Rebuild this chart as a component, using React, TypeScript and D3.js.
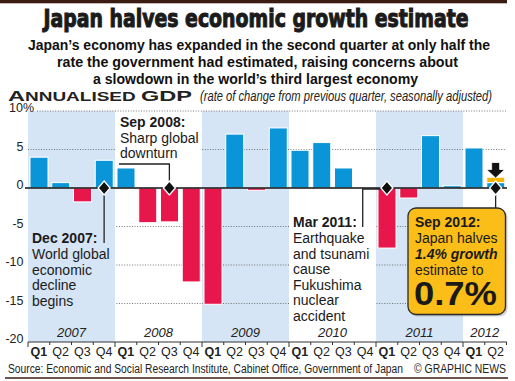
import React from "react";
import * as d3 from "d3";

const years = ["2007", "2008", "2009", "2010", "2011", "2012"];
const quarterNames = ["Q1", "Q2", "Q3", "Q4"];
const gdp = [4.0, 0.7, -1.8, 3.6, 2.6, -4.5, -4.4, -12.2, -15.1, 7.0, -0.3, 7.8, 4.9, 5.9, 2.6, 0, -7.8, -1.3, 6.8, 0.3, 5.2, 0.7];
const earlierEstimate = 1.4;
const yTicks = [10, 5, 0, -5, -10, -15, -20];
const shadedYears = ["2007", "2009", "2011"];
const eventQuarters = [3, 6, 16, 21];

const W = 515;
const H = 381;
const FONT = "'Liberation Sans', Arial, Helvetica, sans-serif";
const NARROW = "'Liberation Sans Narrow', 'Liberation Sans', Arial, sans-serif";
const BLUE = "#0a95d8";
const RED = "#e8174b";
const BAND = "#d6e5f5";
const YELLOW = "#fbbd17";
const INK = "#1b1b1b";

export default function App() {
  const n = gdp.length;
  const qx = d3.scaleLinear().domain([0, n]).range([28, 506.5]);
  const y = d3.scaleLinear().domain([-20, 10]).range([342, 111]);
  const step = qx(1) - qx(0);
  const bw = step - 3.75;
  const quarterLabels = d3.range(n).map((i) => quarterNames[i % 4]);
  const y0 = y(0);
  const cx = (i: number) => qx(i + 0.5);

  const diamond = (i: number) => {
    const x = cx(i);
    return `M${x},${y0 - 7} L${x + 6},${y0} L${x},${y0 + 7} L${x - 6},${y0} Z`;
  };

  const last = n - 1;
  const ax = cx(last);

  return (
    <svg width={W} height={H} style={{ display: "block", position: "absolute", left: 0, top: 0 }} fontFamily={FONT}>
      <rect x={0} y={0} width={W} height={H} fill="#fff" />
      {/* top bar */}
      <rect x={0} y={0} width={507} height={3.3} fill="#3a1c12" />

      {/* title */}
      <text x={256} y={27} textAnchor="middle" fontFamily="'Liberation Sans Narrow', 'DejaVu Sans Condensed', Arial" fontWeight="bold" fontSize={24.5} fill={INK} stroke={INK} strokeWidth={1} textLength={425} lengthAdjust="spacingAndGlyphs">
        Japan halves economic growth estimate
      </text>
      <g fontWeight="bold" fontSize={14} fill="#111" textAnchor="middle">
        <text x={259} y={50} textLength={462} lengthAdjust="spacingAndGlyphs">Japan’s economy has expanded in the second quarter at only half the</text>
        <text x={257.5} y={67} textLength={401} lengthAdjust="spacingAndGlyphs">rate the government had estimated, raising concerns about</text>
        <text x={255.5} y={84} textLength={325} lengthAdjust="spacingAndGlyphs">a slowdown in the world’s third largest economy</text>
      </g>
      <text x={8} y={101} fontWeight="bold" fill="#222" textLength={184} lengthAdjust="spacingAndGlyphs">
        <tspan fontSize={15.5}>A</tspan>
        <tspan fontSize={12.5}>NNUALISED </tspan>
        <tspan fontSize={15.5}>GDP</tspan>
      </text>
      <text x={200} y={101} fontFamily={NARROW} fontStyle="italic" fontSize={15} fill="#222" textLength={292} lengthAdjust="spacingAndGlyphs">
        (rate of change from previous quarter, seasonally adjusted)
      </text>

      {/* shaded year bands */}
      {years.map((yr, yi) =>
        shadedYears.includes(yr) ? (
          <rect key={yr} x={qx(yi * 4)} y={y(10)} width={qx(Math.min(yi * 4 + 4, n)) - qx(yi * 4)} height={y(-20) - y(10)} fill={BAND} />
        ) : null
      )}

      {/* gridlines */}
      {yTicks.filter((t) => t !== 0 && t !== -20).map((t) => (
        <line key={t} x1={t === 10 ? 37 : 28} x2={506.5} y1={y(t)} y2={y(t)} stroke="#555" strokeWidth={0.8} strokeDasharray="1 1.6" />
      ))}

      {/* y tick labels */}
      <g fontSize={12.5} fill="#222">
        {yTicks.map((t) =>
          t === 10 ? (
            <text key={t} x={9} y={y(t) + 0.5}>10%</text>
          ) : (
            <text key={t} x={23.5} y={y(t) + 1} textAnchor="end">{t}</text>
          )
        )}
      </g>

      {/* annotation backdrops */}
      <rect x={qx(0)} y={212} width={qx(4) - qx(0)} height={100} fill={BAND} />
      <rect x={115} y={112} width={qx(8) - 115} height={54} fill="#fff" />
      <rect x={qx(12)} y={211} width={qx(16) - qx(12) - 1} height={116} fill="#fff" />

      {/* bars */}
      {gdp.map((v, i) => (
        <rect
          key={i}
          x={qx(i) + 2}
          y={Math.min(y(v), y0)}
          width={bw}
          height={Math.abs(y(v) - y0)}
          fill={v >= 0 ? BLUE : RED}
          stroke="#fff"
          strokeWidth={1}
        />
      ))}
      {/* earlier estimate on last bar */}
      <rect x={qx(last) + 2} y={y(earlierEstimate)} width={bw} height={y(gdp[last]) - y(earlierEstimate)} fill="#f7b500" stroke="#fff" strokeWidth={1} />

      {/* zero line */}
      <line x1={25} x2={507} y1={y0} y2={y0} stroke="#111" strokeWidth={1.5} />

      {/* bottom axis */}
      <line x1={qx(0)} x2={507} y1={y(-20)} y2={y(-20)} stroke="#333" strokeWidth={1} />
      {d3.range(n + 1).map((i) => (
        <line key={i} x1={qx(i)} x2={qx(i)} y1={y(-20)} y2={y(-20) + (i % 4 === 0 ? 5 : 3)} stroke="#333" strokeWidth={1} />
      ))}

      {/* year labels */}
      <g fontStyle="italic" fontSize={13} fill="#222" textAnchor="middle">
        {years.map((yr, yi) => (
          <text key={yr} x={(qx(yi * 4) + qx(Math.min(yi * 4 + 4, n))) / 2} y={337}>{yr}</text>
        ))}
      </g>
      {/* quarter labels */}
      <g fontSize={12.5} fill="#222" textAnchor="middle" fontFamily={NARROW}>
        {quarterLabels.map((q, i) => (
          <text key={i} x={cx(i)} y={356} fontWeight={q === "Q1" ? "bold" : "normal"}>{q}</text>
        ))}
      </g>

      {/* leader lines */}
      <g stroke="#222" strokeWidth={1.3} fill="none">
        <path d={`M${cx(3)},${y0} V243`} />
        <path d={`M119,164 H${cx(6)} V${y0}`} />
        <path d={`M362.7,227 V${y0 + 1} H${cx(16)}`} />
        <path d={`M${ax},${y0} V209`} />
      </g>

      {/* annotation texts */}
      <g fontSize={14} fill="#1a1a1a">
        <text x={32} y={243} fontWeight="bold">Dec 2007:</text>
        <text x={32} y={259}>World global</text>
        <text x={32} y={274.5}>economic</text>
        <text x={32} y={290}>decline</text>
        <text x={32} y={305.5}>begins</text>

        <text x={120} y={127.3} fontWeight="bold">Sep 2008:</text>
        <text x={120} y={142.8}>Sharp global</text>
        <text x={120} y={158.3}>downturn</text>

        <text x={293} y={227} fontWeight="bold">Mar 2011:</text>
        <text x={293} y={243.3}>Earthquake</text>
        <text x={293} y={258.8}>and tsunami</text>
        <text x={293} y={274.3}>cause</text>
        <text x={293} y={289.8}>Fukushima</text>
        <text x={293} y={305.3}>nuclear</text>
        <text x={293} y={320.8}>accident</text>
      </g>

      {/* Sep 2012 box */}
      <rect x={409.5} y={209.5} width={98} height={107} rx={8} fill="#9a9a9a" opacity={0.45} />
      <rect x={408} y={208} width={97.5} height={106.5} rx={8} fill={YELLOW} stroke="#2a2a2a" strokeWidth={1.3} />
      <g fontSize={14} fill="#1a1a1a">
        <text x={415} y={226.7} fontWeight="bold">Sep 2012:</text>
        <text x={415} y={243}>Japan halves</text>
        <text x={415} y={259} fontWeight="bold" fontStyle="italic">1.4% growth</text>
        <text x={415} y={274.5}>estimate to</text>
        <text x={414} y={305} fontWeight="bold" fontSize={34} textLength={83} lengthAdjust="spacingAndGlyphs">0.7%</text>
      </g>

      {/* diamonds */}
      {eventQuarters.map((i) => (
        <path key={i} d={diamond(i)} fill="#111" stroke="#fff" strokeWidth={1.3} />
      ))}

      {/* down arrow */}
      <path
        d={`M${ax - 4},162.5 H${ax + 4} V169.5 H${ax + 9} L${ax},178 L${ax - 9},169.5 H${ax - 4} Z`}
        fill="#111"
        stroke="#fff"
        strokeWidth={0.8}
      />

      {/* source */}
      <text x={8} y={373} fontSize={12.5} fontFamily={NARROW} fill="#222" textLength={395} lengthAdjust="spacingAndGlyphs">
        Source: Economic and Social Research Institute, Cabinet Office, Government of Japan
      </text>
      <text x={506} y={373} fontSize={12.5} fontFamily={NARROW} fill="#222" textAnchor="end" textLength={92} lengthAdjust="spacingAndGlyphs">
        © GRAPHIC NEWS
      </text>
      <line x1={5} x2={508} y1={378} y2={378} stroke="#3a1c12" strokeWidth={1.5} />
    </svg>
  );
}
